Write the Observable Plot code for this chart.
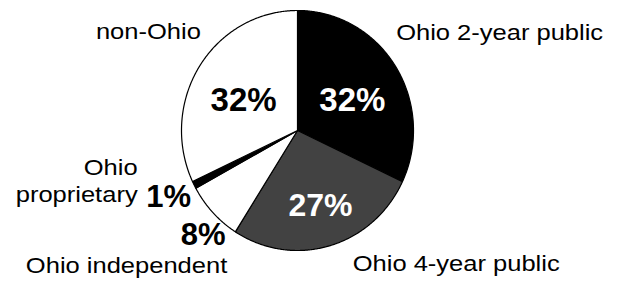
<!DOCTYPE html>
<html>
<head>
<meta charset="utf-8">
<script src="https://cdn.jsdelivr.net/npm/d3@7"></script>
<script src="https://cdn.jsdelivr.net/npm/@observablehq/plot@0.6"></script>
<style>
  html, body { margin: 0; padding: 0; background: #fff; }
  #chart svg { display: block; }
</style>
</head>
<body>
<div id="chart"></div>
<script>
// ---- data ----
const categories = ["Ohio 2-year public", "Ohio 4-year public", "Ohio independent", "Ohio proprietary", "non-Ohio"];
const shares = [32, 27, 8, 1, 32];
const pctLabels = ["32%", "27%", "8%", "1%", "32%"];
const nameLabels = ["Ohio 2-year public", "Ohio 4-year public", "Ohio independent", "Ohio\nproprietary", "non-Ohio"];

// ---- styles / layout ----
const sliceFill = ["#000000", "#424242", "#ffffff", "#000000", "#ffffff"];
const pctColor = ["#ffffff", "#ffffff", "#000000", "#000000", "#000000"];
const pctSize = [33, 32, 31, 31, 33];
// [radius factor, dx, dy, anchor]
const pctPos = [[0.55, 1, 5, "middle"], [0.65, 2, 0, "middle"], [1.15, 3, 10, "middle"], [1.15, -10, 4, "middle"], [0.55, 0, 5, "middle"]];
const namePos = [[1.15, -14, -25, "start"], [1.15, 18, -1, "start"], [1.15, 27, 39, "end"], [1.15, -41, -13, "end"], [1.15, 16, -26, "end"]];

const arcs = d3.pie().sort(null).startAngle(0).endAngle(2 * Math.PI)(shares);

// slice outline points (center + arc + center)
const pts = [];
arcs.forEach((a, i) => {
  pts.push({cat: categories[i], fill: sliceFill[i], x: 0, y: 0});
  const n = Math.max(2, Math.ceil((a.endAngle - a.startAngle) / (Math.PI / 360)));
  for (let k = 0; k <= n; k++) {
    const t = a.startAngle + (a.endAngle - a.startAngle) * k / n;
    pts.push({cat: categories[i], fill: sliceFill[i], x: Math.sin(t), y: Math.cos(t)});
  }
  pts.push({cat: categories[i], fill: sliceFill[i], x: 0, y: 0});
});

const mid = a => (a.startAngle + a.endAngle) / 2;

const pctMarks = arcs.map((a, i) => {
  const [k, dx, dy, anchor] = pctPos[i];
  return Plot.text([{x: k * Math.sin(mid(a)), y: k * Math.cos(mid(a)), t: pctLabels[i]}], {
    x: "x", y: "y", text: "t", dx, dy, textAnchor: anchor,
    fill: pctColor[i], fontSize: pctSize[i], fontWeight: "bold",
    fontFamily: "Liberation Sans, Arial, sans-serif"
  });
});
const nameMarks = arcs.map((a, i) => {
  const [k, dx, dy, anchor] = namePos[i];
  return Plot.text([{x: k * Math.sin(mid(a)), y: k * Math.cos(mid(a)), t: nameLabels[i]}], {
    x: "x", y: "y", text: "t", dx, dy, textAnchor: anchor,
    fill: "#000", fontSize: 22, fontWeight: "normal", lineHeight: 1.23,
    fontFamily: "Liberation Sans, Arial, sans-serif"
  });
});

const chart = Plot.plot({
  width: 620,
  height: 285,
  margin: 0,
  x: {domain: [-1, 1], range: [181, 413], axis: null},
  y: {domain: [-1, 1], range: [250, 10], axis: null},
  marks: [
    Plot.line(pts, {x: "x", y: "y", z: "cat", fill: "fill", stroke: "#000", strokeWidth: 1.2, curve: "linear"}),
    ...pctMarks,
    ...nameMarks
  ]
});
document.getElementById("chart").appendChild(chart);

// horizontally widen the category names, as in the original typeface
d3.select(chart).selectAll('g[font-weight="normal"] text').each(function () {
  const el = d3.select(this);
  const x = +(el.attr("x") || 0);
  const tr = el.attr("transform") || "";
  el.attr("transform", `${tr} translate(${x},0) scale(1.16,1) translate(${-x},0)`);
});
</script>
</body>
</html>
